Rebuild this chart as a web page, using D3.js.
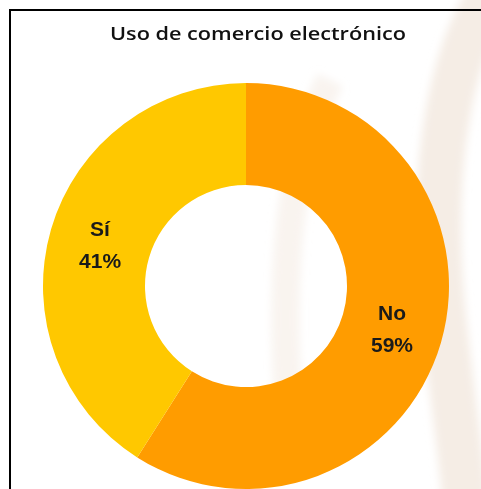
<!DOCTYPE html>
<html>
<head>
<meta charset="utf-8">
<script src="https://cdn.jsdelivr.net/npm/d3@7"></script>
<style>
  html, body { margin: 0; padding: 0; background: #fff; overflow: hidden; }
</style>
</head>
<body>
<div id="chart"></div>
<script>
// chart data
const categories = ['Sí', 'No'];
const values = [41, 59];
const colors = ['#ffc800', '#ff9c00'];
const title = 'Uso de comercio electrónico';

const width = 481;
const height = 489;
const cx = 246;
const cy = 286;
const outerR = 203;
const innerR = 101;

const svg = d3.select('#chart')
  .append('svg')
  .attr('width', width)
  .attr('height', height);

// soft blur for the faint watermark behind the chart
svg.append('defs')
  .append('filter')
  .attr('id', 'soft')
  .append('feGaussianBlur')
  .attr('stdDeviation', 4);

const wm = svg.append('g')
  .attr('fill', 'none')
  .attr('stroke', '#f3e9df')
  .attr('filter', 'url(#soft)');
wm.append('path')
  .attr('d', 'M 500 -20 C 440 60, 430 200, 445 330 S 465 480, 465 520')
  .attr('stroke-width', 45)
  .attr('opacity', 0.8);
wm.append('path')
  .attr('d', 'M 330 80 C 290 160, 280 260, 288 400')
  .attr('stroke-width', 28)
  .attr('opacity', 0.5);

// chart frame
svg.append('rect')
  .attr('x', 10)
  .attr('y', 10)
  .attr('width', width + 20)
  .attr('height', height + 20)
  .attr('fill', 'none')
  .attr('stroke', '#000')
  .attr('stroke-width', 2);

svg.append('text')
  .attr('x', 258)
  .attr('y', 40)
  .attr('text-anchor', 'middle')
  .attr('font-family', 'Open Sans, DejaVu Sans, sans-serif')
  .attr('font-weight', 600)
  .attr('font-size', 18)
  .attr('textLength', 296)
  .attr('lengthAdjust', 'spacingAndGlyphs')
  .attr('fill', '#111')
  .text(title);

const pie = d3.pie().sort(null).value((d) => d.value);
const arc = d3.arc().innerRadius(innerR).outerRadius(outerR);
const labelArc = d3.arc().innerRadius((innerR + outerR) / 2).outerRadius((innerR + outerR) / 2);

const data = categories.map((c, i) => ({ name: c, value: values[i], color: colors[i] }));
// Sí is drawn counter-clockwise from the top, No clockwise from the top
const arcs = pie.startAngle(0).endAngle(2 * Math.PI)(data.slice().reverse());

const g = svg.append('g').attr('transform', `translate(${cx},${cy})`);

g.selectAll('path')
  .data(arcs)
  .join('path')
  .attr('d', arc)
  .attr('fill', (d) => d.data.color);

const labels = g.selectAll('g.label')
  .data(arcs)
  .join('g')
  .attr('class', 'label')
  .attr('transform', (d) => `translate(${labelArc.centroid(d)})`);

labels.append('text')
  .attr('text-anchor', 'middle')
  .attr('y', -8)
  .attr('font-family', 'Liberation Sans, Arial, sans-serif')
  .attr('font-weight', 'bold')
  .attr('font-size', 21)
  .attr('fill', '#1a1a1a')
  .text((d) => d.data.name);

labels.append('text')
  .attr('text-anchor', 'middle')
  .attr('y', 24)
  .attr('font-family', 'Liberation Sans, Arial, sans-serif')
  .attr('font-weight', 'bold')
  .attr('font-size', 21)
  .attr('fill', '#1a1a1a')
  .text((d) => d.data.value + '%');
</script>
</body>
</html>
